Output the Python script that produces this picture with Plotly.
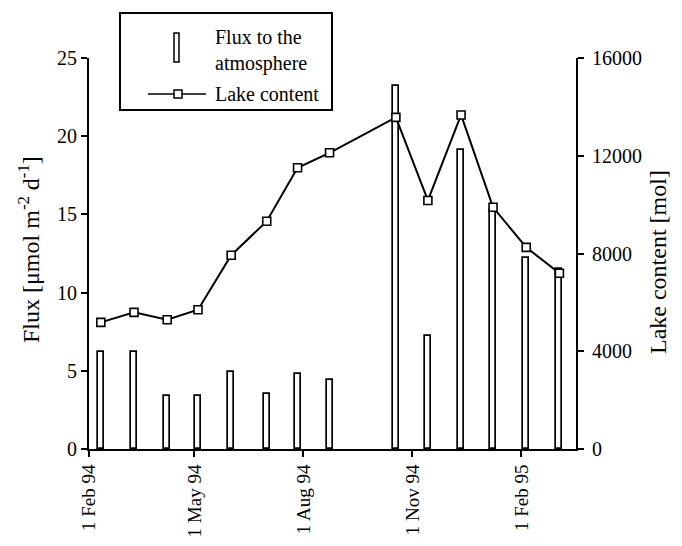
import plotly.graph_objects as go

# ---- data ----
dates = ["1994-02-11", "1994-03-11", "1994-04-08", "1994-05-04", "1994-06-01",
         "1994-07-01", "1994-07-27", "1994-08-23", "1994-10-18", "1994-11-14",
         "1994-12-12", "1995-01-08", "1995-02-05", "1995-03-05"]
flux = [6.2, 6.2, 3.4, 3.4, 4.9, 3.5, 4.8, 4.4, 23.2, 7.2, 19.1, 15.3, 12.2, 11.5]
lake = [5180, 5590, 5290, 5700, 7930, 9320, 11510, 12120, 13570, 10170,
        13670, 9890, 8250, 7190]
tick_dates = ["1994-02-01", "1994-05-01", "1994-08-01", "1994-11-01", "1995-02-01"]
tick_labels = ["1 Feb 94", "1 May 94", "1 Aug 94", "1 Nov 94", "1 Feb 95"]
flux_ticks = [0, 5, 10, 15, 20, 25]
lake_ticks = [0, 4000, 8000, 12000, 16000]
lake_tick_labels = ["0", "4000", "8000", "12000", "16000"]

W, H = 682, 546
L, R, T, B = 89, 106, 58, 97
PW, PH = W - L - R, H - T - B
FONT = "Liberation Serif"


def px(x):
    return (x - L) / PW


def py(y):
    return (H - B - y) / PH


fig = go.Figure()
fig.add_trace(go.Bar(
    x=dates, y=flux, yaxis="y", width=4.4e8,
    marker=dict(color="white", line=dict(color="black", width=1.7)),
    showlegend=False, name="Flux to the atmosphere"))
fig.add_trace(go.Scatter(
    x=dates, y=lake, yaxis="y2", mode="lines+markers",
    line=dict(color="black", width=2),
    marker=dict(symbol="square", size=8, color="white",
                line=dict(color="black", width=1.6)),
    showlegend=False, name="Lake content"))

axis_common = dict(showgrid=False, zeroline=False, showline=True, linecolor="black",
                   linewidth=2, ticks="outside", ticklen=6, tickwidth=2,
                   tickcolor="black", automargin=False,
                   tickfont=dict(family=FONT, size=20, color="black"))

fig.update_layout(
    width=W, height=H, margin=dict(l=L, r=R, t=T, b=B),
    paper_bgcolor="white", plot_bgcolor="white",
    font=dict(family=FONT, color="black"),
    bargap=0,
    xaxis=dict(axis_common, type="date", range=["1994-02-01", "1995-03-19"],
               tickmode="array", tickvals=tick_dates, ticktext=tick_labels,
               tickangle=-90, tickfont=dict(family=FONT, size=19, color="black")),
    yaxis=dict(axis_common, range=[0, 25], tickmode="array", tickvals=flux_ticks),
    yaxis2=dict(axis_common, range=[0, 16000], tickmode="array", tickvals=lake_ticks,
                ticktext=lake_tick_labels, overlaying="y", side="right",
                ticklabelstandoff=4),
)

# axis titles
fig.add_annotation(text="Flux [μmol m<sup>-2</sup> d<sup>-1</sup>]", textangle=-90,
                   xref="paper", yref="paper", x=px(29), y=py(250),
                   xanchor="center", yanchor="middle",
                   showarrow=False, font=dict(family=FONT, size=24, color="black"))
fig.add_annotation(text="Lake content [mol]", textangle=-90,
                   xref="paper", yref="paper", x=px(658), y=py(262),
                   xanchor="center", yanchor="middle",
                   showarrow=False, font=dict(family=FONT, size=24, color="black"))

# legend (drawn manually)
fig.add_shape(type="rect", xref="paper", yref="paper",
              x0=px(120), x1=px(332), y0=py(110), y1=py(13),
              line=dict(color="black", width=2), fillcolor="white", layer="above")
fig.add_shape(type="rect", xref="paper", yref="paper",
              x0=px(174), x1=px(179), y0=py(62), y1=py(33),
              line=dict(color="black", width=1.5), fillcolor="white", layer="above")
fig.add_shape(type="line", xref="paper", yref="paper",
              x0=px(148), x1=px(206), y0=py(94), y1=py(94),
              line=dict(color="black", width=1.5), layer="above")
fig.add_shape(type="rect", xref="paper", yref="paper",
              x0=px(174), x1=px(182), y0=py(98), y1=py(90),
              line=dict(color="black", width=1.5), fillcolor="white", layer="above")
fig.add_annotation(text="Flux to the<br>atmosphere", xref="paper", yref="paper",
                   x=px(213), y=py(50), xanchor="left", yanchor="middle",
                   align="left", showarrow=False,
                   font=dict(family=FONT, size=20, color="black"))
fig.add_annotation(text="Lake content", xref="paper", yref="paper",
                   x=px(213), y=py(94), xanchor="left", yanchor="middle",
                   align="left", showarrow=False,
                   font=dict(family=FONT, size=20, color="black"))

fig.write_html("out.html")
